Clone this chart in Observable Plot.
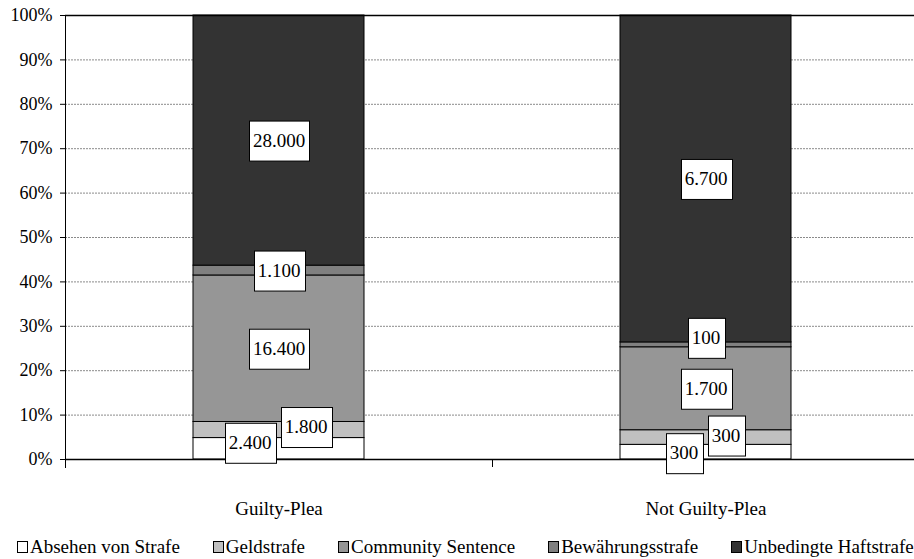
<!DOCTYPE html>
<html><head><meta charset="utf-8">
<script src="https://cdn.jsdelivr.net/npm/d3@7"></script>
<script src="https://cdn.jsdelivr.net/npm/@observablehq/plot@0.6"></script>
<style>
body{margin:0;background:#fff;font-family:"Liberation Serif","Times New Roman",serif;}
#chart{height:534px;}
#legend{display:flex;align-items:center;height:25px;padding-left:17px;font-size:19px;color:#000;line-height:25px;white-space:nowrap}
.item{display:flex;align-items:center;margin-right:33px}
.sw{width:9px;height:10px;border:1px solid #000;margin-right:2px;}
</style></head><body>
<div id="chart"></div><div id="legend"></div>
<script>
const categories = ["Guilty-Plea", "Not Guilty-Plea"];
const series = ["Absehen von Strafe", "Geldstrafe", "Community Sentence", "Bewährungsstrafe", "Unbedingte Haftstrafe"];
const guiltyValues = [2400, 1800, 16400, 1100, 28000];
const notGuiltyValues = [300, 300, 1700, 100, 6700];
const seriesColors = ["#ffffff", "#c0c0c0", "#969696", "#808080", "#333333"];
const yTicks = [0, 0.1, 0.2, 0.3, 0.4, 0.5, 0.6, 0.7, 0.8, 0.9, 1];

const valuesByCat = [guiltyValues, notGuiltyValues];
const rows = categories.flatMap((c, ci) => series.map((s, si) => ({cat: c, series: s, value: valuesByCat[ci][si]})));

const de = d3.formatLocale({decimal: ",", thousands: ".", grouping: [3], currency: ["", " €"]});
const fmt = de.format(",");

// label nudges for small segments (pixels)
const nudges = {
  "Guilty-Plea|Absehen von Strafe": [-29, -6],
  "Guilty-Plea|Geldstrafe": [27, -3],
  "Not Guilty-Plea|Absehen von Strafe": [-22, 1],
  "Not Guilty-Plea|Geldstrafe": [20, -2],
  "Not Guilty-Plea|Bewährungsstrafe": [0, -7]
};
const nudgeOf = d => nudges[d.cat + "|" + d.series] || [0, 0];
const nudgeGroups = Array.from(new Set(rows.map(d => nudgeOf(d).join(",")))).map(s => s.split(",").map(Number));

const labelMarks = nudgeGroups.map(([dx, dy]) =>
  Plot.text(rows, Plot.filter(d => { const n = nudgeOf(d); return n[0] === dx && n[1] === dy; },
    Plot.stackY({x: "cat", y: "value", z: "series", offset: "normalize", text: d => fmt(d.value), dx, dy, fontSize: 19, fill: "black"})))
);

const decor = (index, scales, values, dims) => {
  const sx = scales.x, sy = scales.y;
  const r = typeof sx.range === "function" ? sx.range() : [65, 919];
  const step = typeof sx.step === "function" ? sx.step() : (r[1] - r[0]) / categories.length;
  const y0 = sy(0), y1 = sy(1);
  const g = d3.create("svg:g").attr("stroke", "black").attr("stroke-width", 1);
  g.append("line").attr("x1", r[0] + 0.5).attr("x2", r[0] + 0.5).attr("y1", y1).attr("y2", y0 + 9);
  for (let i = 1; i <= categories.length; i++) {
    const x = Math.round(r[0] + i * step) + 0.5;
    g.append("line").attr("x1", x).attr("x2", x).attr("y1", y0).attr("y2", y0 + 8);
  }
  return g.node();
};

const chart = Plot.plot({
  width: 914, height: 534,
  marginLeft: 65, marginRight: 0, marginTop: 15, marginBottom: 75,
  style: {fontFamily: "'Liberation Serif', 'Times New Roman', serif", fontSize: "18px", background: "white", color: "black"},
  x: {domain: categories, range: [65, 919], paddingInner: 0.6, paddingOuter: 0.3, tickSize: 0, tickPadding: 42, label: null},
  y: {domain: [0, 1], ticks: yTicks, tickFormat: d => Math.round(d * 100) + "%", tickSize: 5, tickPadding: 8, label: null},
  color: {domain: series, range: seriesColors},
  marks: [
    Plot.ruleY(yTicks.filter(t => t > 0 && t < 1), {stroke: "#8a8a8a", strokeDasharray: "2,1"}),
    Plot.barY(rows, Plot.stackY({x: "cat", y: "value", z: "series", fill: "series", offset: "normalize", stroke: "black", strokeWidth: 1})),
    Plot.ruleY([1], {stroke: "black", strokeWidth: 1.5}),
    Plot.ruleY([0], {stroke: "black", strokeWidth: 1.5}),
    decor,
    ...labelMarks
  ]
});
document.getElementById("chart").append(chart);

// larger category labels
chart.querySelectorAll('[aria-label^="x-axis"]').forEach(g => g.style.fontSize = "19px");

// white boxes behind value labels
document.querySelectorAll('#chart g[aria-label="text"] text').forEach(t => {
  const b = t.getBBox();
  const rect = document.createElementNS("http://www.w3.org/2000/svg", "rect");
  const cy = b.y + b.height / 2;
  rect.setAttribute("x", Math.round(b.x - 4) + 0.5);
  rect.setAttribute("width", Math.round(b.width + 8));
  rect.setAttribute("y", Math.round(cy - 20) + 0.5);
  rect.setAttribute("height", 40);
  rect.setAttribute("fill", "white");
  rect.setAttribute("stroke", "black");
  rect.setAttribute("stroke-width", 1);
  if (t.getAttribute("transform")) rect.setAttribute("transform", t.getAttribute("transform"));
  t.parentNode.insertBefore(rect, t);
});

// legend
const legend = d3.select("#legend");
series.forEach((s, i) => {
  const item = legend.append("div").attr("class", "item");
  item.append("div").attr("class", "sw").style("background", seriesColors[i]);
  item.append("span").text(s);
});
</script>
</body></html>
